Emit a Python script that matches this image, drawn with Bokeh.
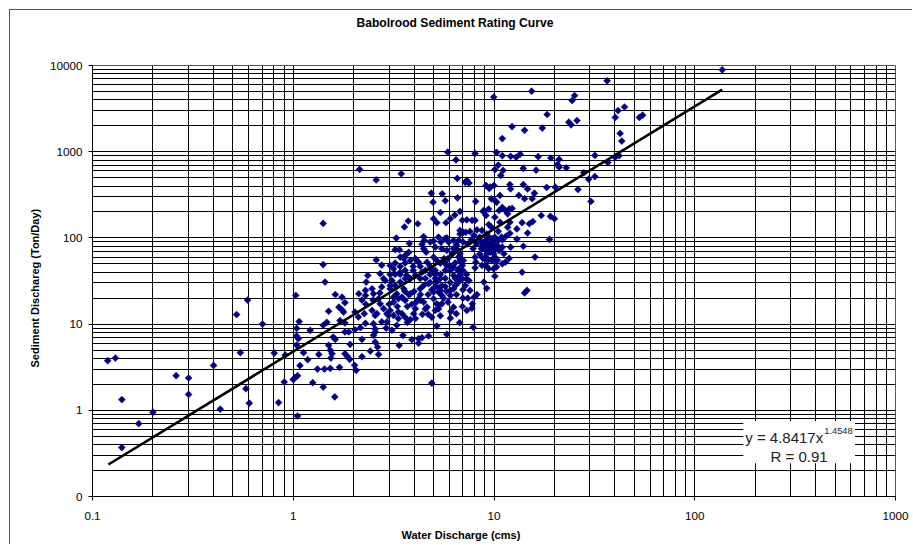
from bokeh.plotting import figure
from bokeh.models import FixedTicker, Label, BoxAnnotation, Title
from bokeh.embed import file_html
from bokeh.resources import INLINE
import math

TITLE = "Babolrood Sediment Rating Curve"
X_LABEL = "Water Discharge (cms)"
Y_LABEL = "Sediment Dischareg (Ton/Day)"
x_ticks = [0.1, 1, 10, 100, 1000]
x_tick_labels = ["0.1", "1", "10", "100", "1000"]
y_ticks = [0.1, 1, 10, 100, 1000, 10000]
y_tick_labels = ["0", "1", "10", "100", "1000", "10000"]

trend_q = [0.12, 137]
trend_s = [0.235, 5250]

low_points = [
(.119,3.76),(.130,4.04),(.140,1.33),(.140,.370),(.170,.70),(.200,.95),(.261,2.52),(.301,2.37),(.301,1.53),
(.401,3.32),(.433,1.03),(.545,4.66),(.522,12.9),(.592,19.0),(.703,10.0),(.804,4.61),(.581,1.78),(.604,1.21),
(.845,1.23),(.902,2.13),(.912,4.37),(1.00,2.27),(1.02,2.39),(1.05,2.52),(1.03,21.5),(1.07,10.7),(1.04,8.92),
(1.04,7.26),(1.06,6.78),(1.04,5.71),(1.08,3.30),(1.05,.859),(1.125,4.66),(1.18,3.87),(1.215,8.46),(1.25,2.09),
(1.32,3.01),(1.34,4.45),(1.41,1.86),(1.41,9.7),(1.47,10.5),(1.43,3.01),(1.53,3.07),(1.61,1.43),(1.70,3.15),
(1.50,5.67),(1.53,4.96),(1.56,4.54),(1.54,4.04),(1.58,7.07),(1.62,6.65),(1.81,4.54),(1.86,4.23),(1.91,3.90),
(2.02,3.33),(2.06,2.91),(1.92,5.82),(1.81,8.1),(1.89,8.1),(2.03,8.6),(2.16,9.1),(2.20,6.65),(2.20,4.19),
(2.42,4.86),(2.66,4.45),(2.56,6.19),(2.63,5.42),(2.51,7.4),(2.56,8.09),
]
lower_mid_points = [
(1.44,30.7),(1.62,22),(1.75,20.5),(1.81,17.7),(1.69,15.7),(1.75,14.6),(1.78,13.8),(1.50,14.1),(1.71,11),(1.81,10.3),
(1.41,147),(1.41,49),(2.03,13.8),(2.11,12.1),(2.29,10.2),(2.26,13.2),(2.47,14.4),(2.61,13.2),(2.51,10.1),(2.56,8.8),
(2.76,10.6),(2.93,10.6),(3.28,9.7),(3.34,11.6),(3.48,13.2),(3.61,12.0),(3.04,14.4),(2.93,13.2),(2.82,15.1),(2.98,12.6),
(3.16,18),(3.34,19.7),(3.52,7.4),(3.37,5.67),(4.72,7.3),(4.38,6.95),(4.21,6.78),(3.90,6.6),(4.21,6.0),(4.90,2.07),
(5.82,7.6),(5.19,9.5),(7.87,9.2),(6.74,10.4),(6.06,11.7),(7.32,14.4),(6.29,15.7),(6.49,13.2),(4.06,15.1),(3.98,13.2),
(4.06,11.6),(3.83,11.3),(4.21,19.7),(4.46,18),(4.64,15.7),(3.61,18.8),(3.83,22.4),(3.28,22.4),(5.19,17.2),(5.50,17.2),
(5.1,14.4),(5.29,15),(5.0,19.7),(4.29,18.8),(4.55,15),(5.29,16.5),(6.67,30.7),(2.56,12.6),(3.16,12.6),(3.34,13.8),
(2.12,22.5),(2.29,24.6),(2.29,21.5),(2.47,25.7),(2.51,22.5),(2.76,27),(3.04,28),(2.35,36.7),(2.31,30.7),(2.71,38.4),
(2.82,33.6),(3.41,40),(3.61,41.9),(3.68,36.7),(3.16,43.8),(3.04,47.9),(2.76,48.3),(2.59,55.5),(2.87,32),(3.10,32),
(3.22,28),(3.41,30.7),(3.83,33.7),(4.06,36.7),(4.38,40),(4.91,41.9),(4.46,28),(4.29,25.7),(4.72,29.4),(5.19,30.7),
(5.50,28),(5.0,23.5),(5.29,23.5),(5.50,21.5),(6.06,21.5),(6.29,25.7),(3.04,25.7),(3.55,25.7),(3.76,22),(3.16,20.5),
(3.48,20.5),(2.71,17.2),(2.66,19.7),
(3.0,17),(3.3,16),(3.7,16),(3.9,17),(4.1,18),(4.4,13),(4.7,13),(4.9,12),(5.4,12.5),(5.6,20),
(5.9,18),(6.1,14),(3.7,10.5),(3.1,8.5),(2.9,9),(3.2,21),(3.6,24),(4.0,24),(4.3,22),(4.7,22),
(4.9,25),(5.3,26),(5.8,24),(6.5,22),(7,25),(7.2,28),(2.7,23),(2.5,19),(2.3,17),(2.2,19),
]
core_points = [
(3.41,60),(3.61,62.6),(3.76,68),(4.06,57.5),(4.21,52.3),(4.64,52.3),(5.0,59.7),(5.19,54.8),(5.82,71.6),(6.29,74.9),
(6.77,65.5),(7.03,54.8),(7.87,74.9),(8.66,74.9),(8.05,59.7),(8.12,52.3),(9.21,65.5),(5.82,47.9),(6.29,45.8),(6.77,45),
(8.05,45),(8.71,47.9),(3.26,99.5),(3.79,86.3),(4.46,103.7),(4.50,93.5),(4.38,84.3),(4.46,74.9),(4.59,68.4),(5.0,92),
(5.29,102),(5.44,89.5),(5.82,100),(6.29,93.5),(6.77,111),(7.23,116),(6.96,160),(7.32,162),(8.05,160),(7.03,116),
(7.59,119),(8.22,124),(8.87,208),(9.13,182),(8.71,122),(9.41,143),(3.22,73),(3.38,73),(3.83,54.8),(3.55,57.5),
(6.06,41.9),(6.29,36.7),(5.64,57.5),(6.67,93.5),(4.81,89.5),(5.7,98),(5.95,89.5),(5.1,78),(5.5,74.9),(6.5,75),
(6.67,60),(6.77,54.8),(6.96,47.9),(7.32,33),(7.5,32),(6.96,33.7),(6.67,35),(6.42,28),(7.59,24.6),(8.22,22),
(7.96,20.5),(7.0,20),(7.4,20),(7.8,17.2),(7.76,15.3),(6.96,16),
]
dense_core_points = [
(3.22,51),(3.41,46.7),(3.61,51),(3.96,46.7),(4.29,46.7),(4.55,42),(4.81,46.7),(5.1,42),(5.41,37.7),(5.72,42),
(6.06,46.7),(4.55,33.9),(4.81,37.7),(5.1,33.9),(5.41,33.9),(5.72,33.9),(6.06,30.4),(4.29,33.9),(4.81,30.4),(5.1,27.3),
(5.41,24.6),(5.72,27.3),(6.06,24.6),(5.1,37.7),(3.96,42),(3.61,33.9),(3.41,37.7),(3.22,37.7),(3.04,37.7),(6.42,33.9),
(6.8,37.7),(7.3,37.7),(7.0,42),(6.6,42),(6.4,51),(5.7,51),(5.4,51),(5.9,57.5),(6.2,65),(6.5,83),
(7,90),(7.4,85),(7.7,95),(8.2,85),(8.5,65),(8.8,58),(9.3,55),(9.7,55),(10,54),(10.4,55),
(9.4,72),(8.9,88),(8.6,92),(11,95),(10.9,102),(11.5,105),(12,113),(9.1,72),(8.8,82),
]
upper_mid_points = [
(4.87,330),(5.52,325),(6.58,292),(4.97,260),(5.72,270),(8.10,265),(9.46,375),(5.41,197),(6.77,203),(6.38,184),
(5.0,167),(5.19,150),(5.77,150),(6.06,167),(3.74,157),(4.17,146),(3.58,134),(5.88,987),(6.47,805),(8.05,956),
(6.56,490),(7.32,464),(7.5,432),(2.14,622),(2.59,470),(3.45,555),(7.2,440),(7.96,107),(8.5,102),(9.21,111),
(6.77,122),(7.78,160),(9.4,216),(9.7,284),(10.1,272),(10.3,259),(10.7,311),(10.6,208),(11,226),(11.4,208),
(11.7,190),(11.9,216),(9.58,388),(10,406),(9.13,406),
]
ten_cms_points = [
(9.13,93.5),(9.41,102),(9.77,98),(10.1,102),(10.5,93.5),(9.2,85.8),(9.58,85.8),(9.96,85.8),(10.4,81.8),(9.4,78),
(9.77,75),(10.1,75),(10.6,71.6),(9.58,68.5),(9.96,65.5),(11,78),(11.2,65.5),(9.1,60),(9.1,47.9),(9.4,44),
(10.1,60),(9.96,44),(10.3,46),(11,50),(11.4,52.3),(11.9,58),(13.8,40),(10.1,36),(8.9,30.7),(9.2,26),
(14.6,24.6),(14.2,23),(16,60),(13,97),(18.9,96),(14,80),(12.1,78),
]
high_points = [
(9.97,4300),(15.4,5030),(36.6,6650),(137,8900),(25.2,4480),(24.5,3920),(44.7,3300),(41.5,3000),(40.2,2500),(53,2500),
(55,2650),(18.4,2700),(25.9,2300),(23.6,2200),(24.2,2050),(12.3,1950),(14.2,1770),(17.4,1880),(11,1420),(42.5,1630),
(43.3,1330),(10.3,980),(11,900),(12.1,885),(12.9,865),(13.5,935),(16.6,875),(19.2,845),(21.1,815),(20.7,710),
(21.1,660),(22.9,650),(31.8,905),(40.1,860),(42,900),(36.9,750),(10.5,700),(10.1,620),(11.1,607),(10.8,531),
(14,640),(16.2,610),(28,570),(29.6,480),(31.8,515),(12,415),(12.1,370),(14,415),(14.7,370),(18.3,385),
(20.2,388),(26.2,365),(30.4,265),(15.9,330),(15.5,285),(14.2,285),(13.3,311),(12.3,220),(17.2,182),(19.1,178),
(20,167),(15.6,155),(15,146),(13.8,150),(13,127),(14.7,114),(12,152),(11.7,133),(10.7,152),(10.1,174),
(8.9,198),(9.7,133),(10.5,119),
]
all_points = low_points + lower_mid_points + core_points + dense_core_points + upper_mid_points + ten_cms_points + high_points
q = [a for a, b in all_points]
s = [b for a, b in all_points]

FONT = "Liberation Sans"
p = figure(width=903, height=535, x_axis_type="log", y_axis_type="log",
           x_range=(0.1, 1000), y_range=(0.1, 10000),
           output_backend="svg", toolbar_location=None,
           min_border_left=82, min_border_right=18, min_border_top=55, min_border_bottom=49)
p.margin = (9, 0, 0, 9)
p.styles = {"border-left": "1px solid #555555", "border-top": "1px solid #555555"}
p.background_fill_color = "white"
p.outline_line_color = "#555555"

p.title.text = TITLE
p.title.text_font = FONT
p.title.text_font_size = "12.1px"
p.title.text_font_style = "bold"
p.title.text_color = "black"
p.title.align = "left"
p.title.offset = 264
p.title.standoff = 8
p.title.vertical_align = "top"
p.add_layout(Title(text="\u00a0", text_font=FONT, text_font_size="11px", standoff=16), "above")

minors = [m * 10.0 ** e for e in range(-1, 4) for m in range(2, 10)]
p.xaxis.ticker = FixedTicker(ticks=x_ticks, minor_ticks=[v for v in minors if v < 1000])
p.yaxis.ticker = FixedTicker(ticks=y_ticks, minor_ticks=minors)
p.xaxis.major_label_overrides = dict(zip(x_ticks, x_tick_labels))
p.yaxis.major_label_overrides = dict(zip(y_ticks, y_tick_labels))
for ax in (p.xaxis[0], p.yaxis[0]):
    ax.major_label_text_font = FONT
    ax.major_label_text_font_size = "11.7px"
    ax.major_label_text_color = "black"
    ax.major_tick_in = 0
    ax.major_tick_out = 4
    ax.major_tick_line_color = "black"
    ax.minor_tick_in = 0
    ax.minor_tick_out = 0
    ax.axis_line_color = "black"
p.xaxis.major_label_standoff = 11
p.yaxis.major_label_standoff = 6

for g in (p.xgrid[0], p.ygrid[0]):
    g.grid_line_color = "black"
    g.grid_line_width = 1
    g.minor_grid_line_color = "black"
    g.minor_grid_line_width = 1

p.add_layout(Title(text=X_LABEL, text_font=FONT, text_font_size="11px", text_font_style="bold",
                   text_color="black", align="left", offset=309, standoff=8), "below")
p.add_layout(Title(text=Y_LABEL, text_font=FONT, text_font_size="11px", text_font_style="bold",
                   text_color="black", align="left", offset=129, standoff=8, vertical_align="top"), "left")

p.scatter(q, s, marker="square", angle=math.pi / 4, size=5.1,
          fill_color="#000080", line_color="#000080", line_width=0.3)
p.line(trend_q, trend_s, line_color="black", line_width=2.6)

p.add_layout(BoxAnnotation(left=174.4, right=629, bottom=0.243, top=0.746,
                           fill_color="white", fill_alpha=1, line_alpha=0))

def lab(x, y, text, size, align="left"):
    p.add_layout(Label(x=x, y=y, text=text, text_font=FONT, text_font_size=size,
                       text_align=align, text_baseline="middle", text_color="#222222"))

lab(178.4, 0.486, "y = 4.8417x", "15px")
lab(441.7, 0.571, "1.4548", "9.3px")
lab(331, 0.293, "R = 0.91", "15px", align="center")

open("out.html", "w").write(file_html(p, INLINE))
